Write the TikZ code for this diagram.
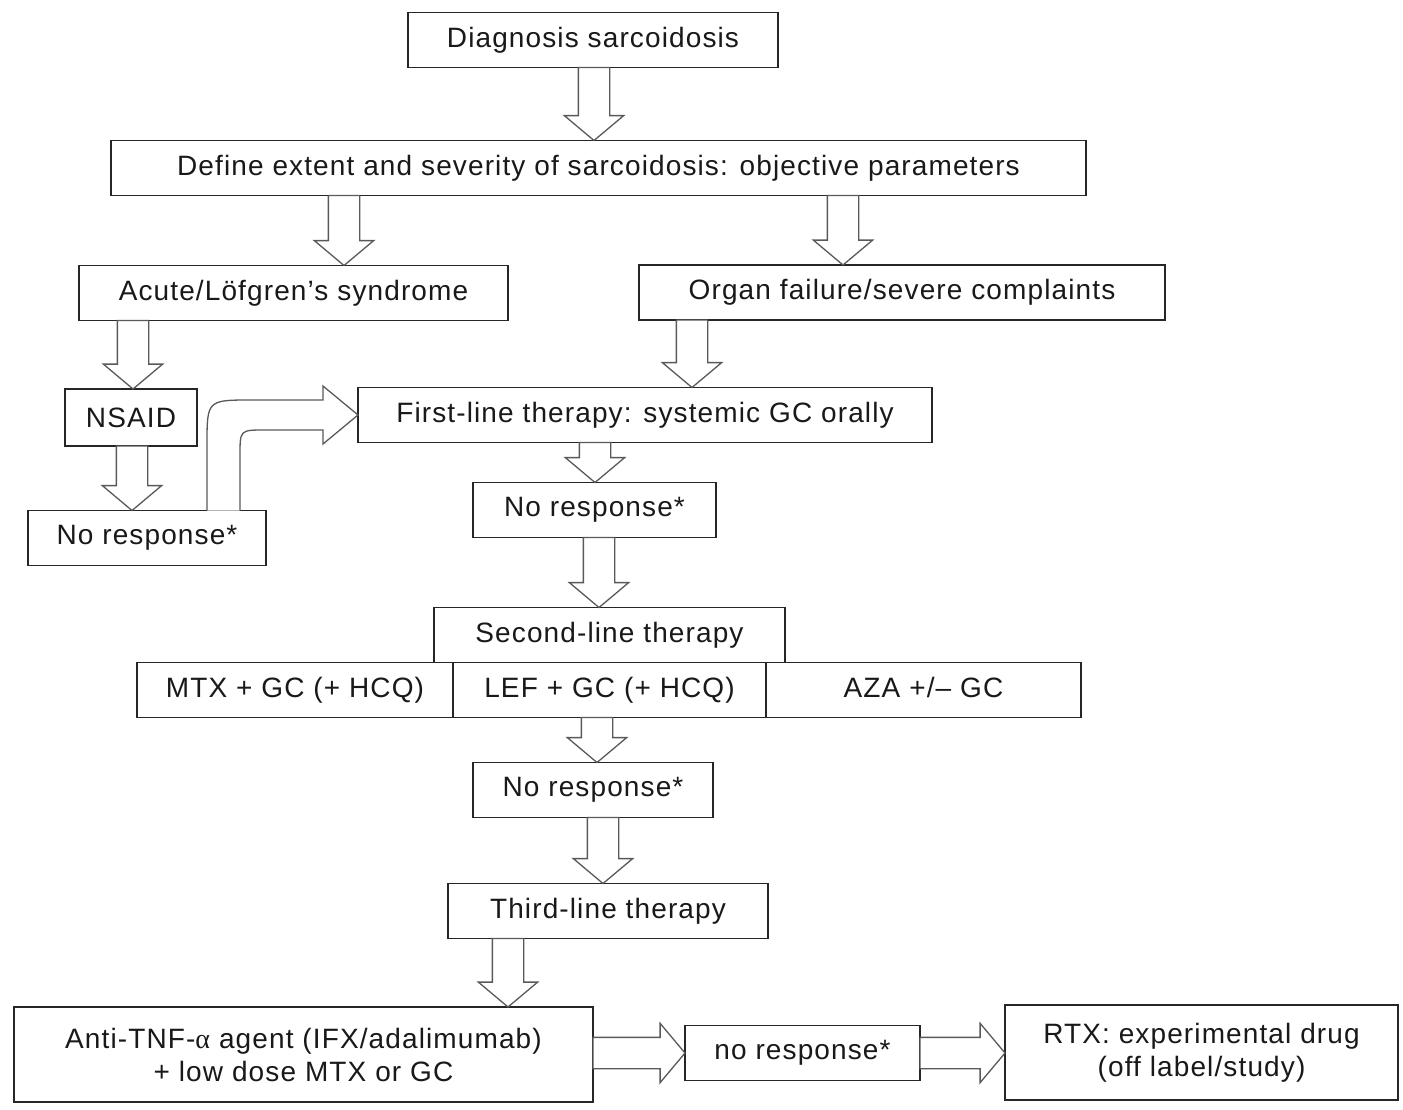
\documentclass[tikz,border=0pt]{standalone}
\usepackage{fontspec}
\setmainfont{Liberation Sans}[LetterSpace=4]
\newfontfamily\alphafont{Liberation Serif}
\usepackage{tikz}
\usetikzlibrary{positioning,calc,shapes.arrows}

\newcommand\fatarrow[2]{%
	\path let \p1=#1, \p2=#2, \p3=($(\p2)-(\p1)$),
		\n1={veclen(\x3,\y3)}, \n2={atan2(\y3,\x3)} in
		node[fatarrow, minimum height=\n1, rotate=\n2, anchor=tail] at (\p1) {};}

\begin{document}
\begin{tikzpicture}[x=1pt, y=-1pt,
			box/.style={rectangle, draw=black!85, line width=1.6pt, fill=white, text=black!90,
				inner sep=0pt, outer sep=0pt, minimum height=55pt, align=center,
				font=\fontsize{28}{33}\selectfont},
			fatarrow/.style={single arrow, draw=black!65, line width=1.3pt, fill=white,
				inner xsep=0pt, inner ysep=15pt, outer sep=0pt, minimum width=0pt,
				single arrow head extend=14pt, single arrow tip angle=100},
			]
			\useasboundingbox (0,0) rectangle (1403,1110);
			%Nodes
			\node[box, minimum width=370pt] (diag)   at (593,40)      {Diagnosis sarcoidosis};
			\node[box, minimum width=975pt] (define) at (598.5,168)   {Define extent and severity of sarcoidosis: objective parameters};
			\node[box, minimum width=429pt] (acute)  at (293.5,293)   {Acute/Löfgren’s syndrome};
			\node[box, minimum width=526pt] (organ)  at (902,292.5)   {Organ failure/severe complaints};
			\node[box, minimum width=132pt, minimum height=57pt] (nsaid) at (131,417.5) {NSAID};
			\node[box, minimum width=574pt] (first)  at (645,415)     {First-line therapy: systemic GC orally};
			\node[box, minimum width=238pt] (noresp1) at (147,538)    {No response*};
			\node[box, minimum width=243pt] (noresp2) at (594.5,510)  {No response*};

			\node[box, minimum width=313pt] (lef)    at (609.5,690)   {LEF + GC (+ HCQ)};
			\node[box, minimum width=316pt] (mtx)    [left=0pt of lef]  {MTX + GC (+ HCQ)};
			\node[box, minimum width=315pt] (aza)    [right=0pt of lef] {\vphantom{()}AZA +/– GC};
			\node[box, minimum width=351pt] (second) [above=0pt of lef] {Second-line therapy};

			\node[box, minimum width=240pt] (noresp3) at (593,790)    {No response*};
			\node[box, minimum width=320pt] (third)  at (608,911)     {Third-line therapy};
			\node[box, minimum width=579pt, minimum height=95pt] (antitnf) at (303.5,1054.5)
				{Anti-TNF-{\alphafont α} agent (IFX/adalimumab)\\+ low dose MTX or GC};
			\node[box, minimum width=235pt] (noresp4) at (802.5,1053) {no response*};
			\node[box, minimum width=393pt, minimum height=95pt] (rtx) at (1201.5,1052.5)
				{RTX: experimental drug\\(off label/study)};

			%Arrows
			\fatarrow{(594,0 |- diag.south)}{(594,0 |- define.north)}
			\fatarrow{(344,0 |- define.south)}{(344,0 |- acute.north)}
			\fatarrow{(843,0 |- define.south)}{(843,0 |- organ.north)}
			\fatarrow{(133,0 |- acute.south)}{(133,0 |- nsaid.north)}
			\fatarrow{(692,0 |- organ.south)}{(692,0 |- first.north)}
			\fatarrow{(132,0 |- nsaid.south)}{(132,0 |- noresp1.north)}
			\fatarrow{(595,0 |- first.south)}{(595,0 |- noresp2.north)}
			\fatarrow{(599,0 |- noresp2.south)}{(599,0 |- second.north)}
			\fatarrow{(597,0 |- lef.south)}{(597,0 |- noresp3.north)}
			\fatarrow{(603,0 |- noresp3.south)}{(603,0 |- third.north)}
			\fatarrow{(508,0 |- third.south)}{(508,0 |- antitnf.north)}
			\fatarrow{(antitnf.east |- noresp4.west)}{(noresp4.west)}
			\fatarrow{(noresp4.east)}{(rtx.west |- noresp4.east)}

			%Bent arrow NSAID branch to first-line therapy
			\draw[draw=black!65, line width=1.3pt, fill=white]
				let \p1=(noresp1.north), \p2=(first.west) in
				(\x1+60pt,\y1) -- (\x1+60pt,\y2-30pt)
				.. controls (\x1+60pt,\y2+15pt) .. (\x1+105pt,\y2+15pt)
				-- (\x2-35pt,\y2+15pt) -- (\x2-35pt,\y2+29pt) -- (\x2,\y2)
				-- (\x2-35pt,\y2-29pt) -- (\x2-35pt,\y2-15pt) -- (\x1+118pt,\y2-15pt)
				.. controls (\x1+93pt,\y2-15pt) .. (\x1+93pt,\y2-40pt)
				-- (\x1+93pt,\y1);
		\end{tikzpicture}
\end{document}
